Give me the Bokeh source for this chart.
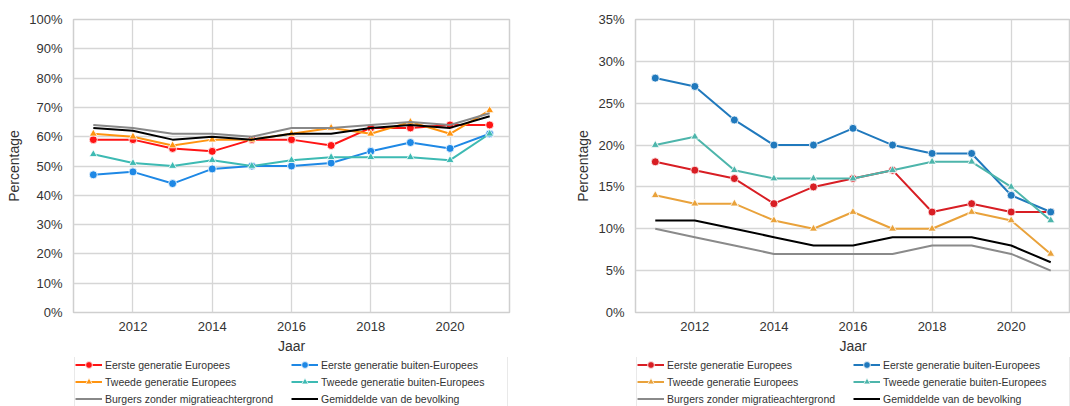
from bokeh.plotting import figure
from bokeh.layouts import row, column
from bokeh.models import (ColumnDataSource, FixedTicker, PrintfTickFormatter, Range1d,
                          Legend, LegendItem)
from bokeh.embed import file_html
from bokeh.resources import INLINE

years = [2011, 2012, 2013, 2014, 2015, 2016, 2017, 2018, 2019, 2020, 2021]
x_ticks = [2012, 2014, 2016, 2018, 2020]

labels = ["Eerste generatie Europees", "Tweede generatie Europees",
          "Burgers zonder migratieachtergrond", "Eerste generatie buiten-Europees",
          "Tweede generatie buiten-Europees", "Gemiddelde van de bevolking"]

# Left chart (percentages)
left_eerste_eu = [59, 59, 56, 55, 59, 59, 57, 63, 63, 64, 64]
left_tweede_eu = [61, 60, 57, 59, 59, 61, 63, 61, 65, 61, 69]
left_burgers = [64, 63, 61, 61, 60, 63, 63, 64, 65, 64, 68]
left_eerste_buiten = [47, 48, 44, 49, 50, 50, 51, 55, 58, 56, 61]
left_tweede_buiten = [54, 51, 50, 52, 50, 52, 53, 53, 53, 52, 61]
left_gemiddelde = [63, 62, 59, 60, 59, 61, 61, 63, 64, 63, 67]
left_y_ticks = [0, 10, 20, 30, 40, 50, 60, 70, 80, 90, 100]

# Right chart (percentages)
right_eerste_eu = [18, 17, 16, 13, 15, 16, 17, 12, 13, 12, 12]
right_tweede_eu = [14, 13, 13, 11, 10, 12, 10, 10, 12, 11, 7]
right_burgers = [10, 9, 8, 7, 7, 7, 7, 8, 8, 7, 5]
right_eerste_buiten = [28, 27, 23, 20, 20, 22, 20, 19, 19, 14, 12]
right_tweede_buiten = [20, 21, 17, 16, 16, 16, 17, 18, 18, 15, 11]
right_gemiddelde = [11, 11, 10, 9, 8, 8, 9, 9, 9, 8, 6]
right_y_ticks = [0, 5, 10, 15, 20, 25, 30, 35]

markers = ["circle", "triangle", None, "circle", "triangle", None]
left_colors = ["#ff1414", "#ff9410", "#888888", "#1e88e5", "#3dbab3", "#000000"]
right_colors = ["#d81e24", "#e9a23b", "#8a8a8a", "#2079bd", "#4db5ab", "#000000"]

FONT = "Liberation Sans"
TXT = "#333333"


def add_series(p, src, mk, col):
    rs = [p.line("x", "y", source=src, line_color=col, line_width=2)]
    if mk is not None:
        rs.append(p.scatter("x", "y", source=src, marker=mk, size=8,
                            fill_color=col, line_color="white", line_width=0.8))
    return rs


def make_panel(width, min_left, min_right, y_end, y_ticks, series, colors):
    p = figure(width=width, height=357, output_backend="svg", toolbar_location=None,
               x_range=Range1d(2010.5, 2021.5), y_range=Range1d(0, y_end),
               min_border_left=min_left, min_border_right=min_right,
               min_border_top=19, min_border_bottom=45)
    p.background_fill_color = "white"
    p.border_fill_color = "white"
    p.outline_line_color = "#cfcfcf"
    p.outline_line_width = 1.5
    for ax in (p.xaxis[0], p.yaxis[0]):
        ax.axis_line_color = None
        ax.major_tick_line_color = None
        ax.minor_tick_line_color = None
        ax.major_tick_out = 0
        ax.major_tick_in = 0
        ax.minor_tick_out = 0
        ax.minor_tick_in = 0
        ax.major_label_text_font = FONT
        ax.major_label_text_font_size = "13px"
        ax.major_label_text_color = TXT
        ax.axis_label_text_font = FONT
        ax.axis_label_text_font_size = "14px"
        ax.axis_label_text_font_style = "normal"
        ax.axis_label_text_color = TXT
    p.xaxis.ticker = FixedTicker(ticks=x_ticks)
    p.yaxis.ticker = FixedTicker(ticks=y_ticks)
    p.yaxis.formatter = PrintfTickFormatter(format="%d%%")
    p.xaxis.axis_label = "Jaar"
    p.yaxis.axis_label = "Percentage"
    p.xaxis.major_label_standoff = 9
    p.xaxis.axis_label_standoff = 4
    p.yaxis.major_label_standoff = 11
    p.yaxis.axis_label_standoff = 4
    for g in (p.xgrid[0], p.ygrid[0]):
        g.grid_line_color = "#d6d6d6"
        g.grid_line_width = 1.3

    # legend lives in its own strip below the chart; its proxy glyphs share the
    # chart's data but the strip's ranges keep them out of sight
    lp = figure(width=width, height=49, output_backend="svg", toolbar_location=None,
                x_range=Range1d(0, 1), y_range=Range1d(-1000, -999),
                x_axis_location=None, y_axis_location=None,
                min_border_left=min_left, min_border_right=min_right, min_border_top=0,
                min_border_bottom=0)
    lp.outline_line_color = None
    lp.background_fill_color = "white"
    lp.border_fill_color = "white"
    lp.grid.visible = False

    items = []
    for lab, vals, mk, col in zip(labels, series, markers, colors):
        src = ColumnDataSource(dict(x=years, y=vals))
        add_series(p, src, mk, col)
        rs = add_series(lp, src, mk, col)
        items.append(LegendItem(label=lab, renderers=rs))

    leg = Legend(items=items, ncols=2, location=(1, -2))
    leg.label_text_font = FONT
    leg.label_text_font_size = "10.5px"
    leg.label_text_color = TXT
    leg.label_height = 17
    leg.glyph_height = 17
    leg.glyph_width = 27
    leg.label_width = 186
    leg.label_standoff = 3
    leg.spacing = 0
    leg.padding = 0
    leg.margin = 0
    leg.border_line_color = "#d4d4d4"
    leg.border_line_width = 1
    leg.background_fill_color = "white"
    leg.background_fill_alpha = 1
    lp.add_layout(leg, "center")
    return column(p, lp, spacing=0)


c1 = make_panel(568, 73, 59, 100, left_y_ticks,
                [left_eerste_eu, left_tweede_eu, left_burgers,
                 left_eerste_buiten, left_tweede_buiten, left_gemiddelde], left_colors)
c2 = make_panel(502, 67, 0, 35, right_y_ticks,
                [right_eerste_eu, right_tweede_eu, right_burgers,
                 right_eerste_buiten, right_tweede_buiten, right_gemiddelde], right_colors)

layout = row(c1, c2, spacing=0)
open("out.html", "w").write(file_html(layout, INLINE))
